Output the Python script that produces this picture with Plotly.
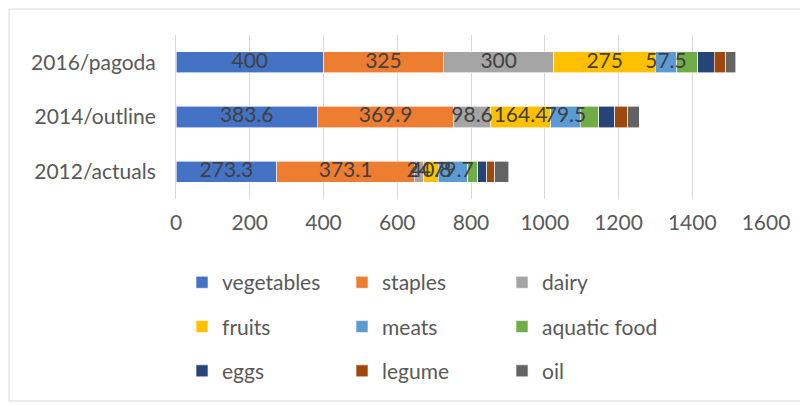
import plotly.graph_objects as go

# categories (bottom to top)
years = ["2012/actuals", "2014/outline", "2016/pagoda"]

vegetables = [273.3, 383.6, 400]
staples = [373.1, 369.9, 325]
dairy = [24, 98.6, 300]
fruits = [40.8, 164.4, 275]
meats = [79.7, 79.5, 57.5]
aquatic_food = [28, 50, 58]
eggs = [24, 43.5, 44.5]
legume = [21, 35, 31]
oil = [38, 32, 27]

series = [
    ("vegetables", vegetables, "#4472C4", True, "legend"),
    ("staples", staples, "#ED7D31", True, "legend"),
    ("dairy", dairy, "#A5A5A5", True, "legend"),
    ("fruits", fruits, "#FFC000", True, "legend2"),
    ("meats", meats, "#5B9BD5", True, "legend2"),
    ("aquatic food", aquatic_food, "#70AD47", False, "legend2"),
    ("eggs", eggs, "#264478", False, "legend3"),
    ("legume", legume, "#9E480E", False, "legend3"),
    ("oil", oil, "#636363", False, "legend3"),
]

FONT = "Lato"
FS = 21
fig = go.Figure()

for name, vals, color, labelled, lg in series:
    fig.add_trace(go.Bar(
        y=years, x=vals, name=name, orientation="h",
        marker=dict(color=color, line=dict(color="white", width=0.6)),
        legend=lg,
    ))

# data labels drawn above all bars (as Excel does), centred on each segment
base = [0.0] * len(years)
for name, vals, color, labelled, lg in series:
    mids = [b + v / 2 for b, v in zip(base, vals)]
    base = [b + v for b, v in zip(base, vals)]
    if labelled:
        fig.add_trace(go.Scatter(
            y=years, x=mids, mode="text",
            text=[f"{v:g}" for v in vals],
            textposition="middle center",
            textfont=dict(size=FS, color="#404040", family=FONT),
            showlegend=False, hoverinfo="skip",
        ))

# legends: three rows of three entries
leg_common = dict(orientation="h", x=0.0102, xanchor="left", yanchor="middle",
                  entrywidth=115, entrywidthmode="pixels",
                  font=dict(size=FS, color="#595959", family=FONT),
                  bgcolor="rgba(0,0,0,0)", traceorder="normal")

# the page body adds an 8px offset, so the figure is drawn 8px smaller
fig.update_layout(
    barmode="stack",
    bargap=0.615,
    width=800, height=397,
    margin=dict(l=168, r=42, t=27, b=206),
    paper_bgcolor="white", plot_bgcolor="white",
    font=dict(family=FONT, color="#595959"),
    legend=dict(y=-0.51, **leg_common),
    legend2=dict(y=-0.78, **leg_common),
    legend3=dict(y=-1.05, **leg_common),
    xaxis=dict(range=[0, 1600], dtick=200, showgrid=True, gridcolor="#D9D9D9",
               gridwidth=1, zeroline=False, showline=False,
               tickfont=dict(size=FS, color="#595959", family=FONT), ticks="",
               ticklabelstandoff=9),
    yaxis=dict(showgrid=False, showline=True, linecolor="#D9D9D9", ticks="",
               tickfont=dict(size=FS, color="#595959", family=FONT),
               ticklabelstandoff=15),
    shapes=[dict(type="rect", xref="paper", yref="paper",
                 x0=-0.283, x1=1.0627, y0=-1.2317, y1=1.1585,
                 line=dict(color="#D9D9D9", width=1), fillcolor="rgba(0,0,0,0)")],
)

fig.write_html("out.html")
